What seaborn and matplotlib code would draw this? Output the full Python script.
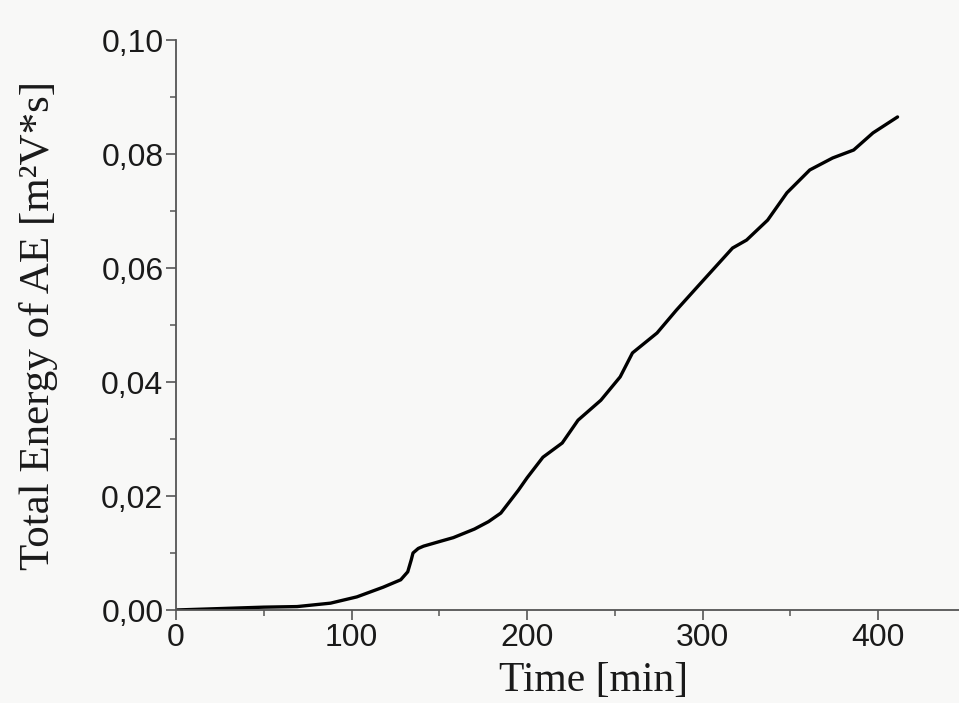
import matplotlib
matplotlib.use("Agg")
import matplotlib.pyplot as plt
from matplotlib.ticker import MultipleLocator, FuncFormatter
import seaborn as sns
import pandas as pd

time_min = [0, 50, 69, 88, 103, 118, 128, 132, 134, 135, 138, 141, 150, 158,
            170, 178, 185, 195, 200, 204, 209, 220, 229, 242, 253, 260, 264,
            274, 285, 297, 317, 325, 337, 348, 361, 374, 386, 397, 411]
energy = [0.0, 0.0005, 0.0006, 0.0012, 0.0023, 0.0040, 0.0053, 0.0067, 0.0088,
          0.0100, 0.0108, 0.0112, 0.0120, 0.0127, 0.0142, 0.0155, 0.0170,
          0.0210, 0.0232, 0.0248, 0.0268, 0.0293, 0.0333, 0.0368, 0.0409,
          0.0451, 0.0461, 0.0486, 0.0526, 0.0567, 0.0635, 0.0649, 0.0684,
          0.0732, 0.0772, 0.0793, 0.0807, 0.0837, 0.0865]
x_ticks = [0, 100, 200, 300, 400]
y_ticks = [0.00, 0.02, 0.04, 0.06, 0.08, 0.10]

df = pd.DataFrame({"Time": time_min, "Energy": energy})

sns.set_style("ticks")
plt.rcParams["font.family"] = ["Liberation Sans", "DejaVu Sans"]

bg = "#f8f8f7"
fig = plt.figure(figsize=(9.59, 7.03), dpi=100, facecolor=bg)
ax = fig.add_axes([176 / 959, 93 / 703, 783 / 959, 570 / 703])
ax.set_facecolor(bg)

sns.lineplot(data=df, x="Time", y="Energy", ax=ax, color="black",
             linewidth=2.4, estimator=None, sort=True)
ax.lines[0].set_solid_joinstyle("round")

ax.set_xlim(0, 446)
ax.set_ylim(0, 0.10)
ax.set_xticks(x_ticks)
ax.set_yticks(y_ticks)
ax.xaxis.set_minor_locator(MultipleLocator(50))
ax.yaxis.set_minor_locator(MultipleLocator(0.01))
ax.yaxis.set_major_formatter(FuncFormatter(lambda v, p: f"{v:.2f}".replace(".", ",")))
ax.xaxis.set_major_formatter(FuncFormatter(lambda v, p: f"{v:.0f}"))

axis_col = "#555555"
for s in ["top", "right"]:
    ax.spines[s].set_visible(False)
for s in ["left", "bottom"]:
    ax.spines[s].set_color(axis_col)
    ax.spines[s].set_linewidth(1.3)
ax.tick_params(which="major", length=7, width=1.2, color=axis_col,
               labelsize=23, labelcolor="#1a1a1a", pad=2)
ax.tick_params(which="minor", length=4, width=1.1, color=axis_col)

serif = ["Liberation Serif", "DejaVu Serif"]
ax.set_xlabel("Time [min]", fontsize=30, family=serif, color="#1a1a1a")
ax.set_ylabel("Total Energy of AE [m²V*s]", fontsize=31, family=serif,
              color="#1a1a1a")
ax.xaxis.set_label_coords(0.533, -0.09)
ax.yaxis.set_label_coords(-0.175, 0.5)
ax.xaxis.label.set_va("top")
ax.yaxis.label.set_va("center")

fig.savefig("out.png", dpi=100, facecolor=bg)
